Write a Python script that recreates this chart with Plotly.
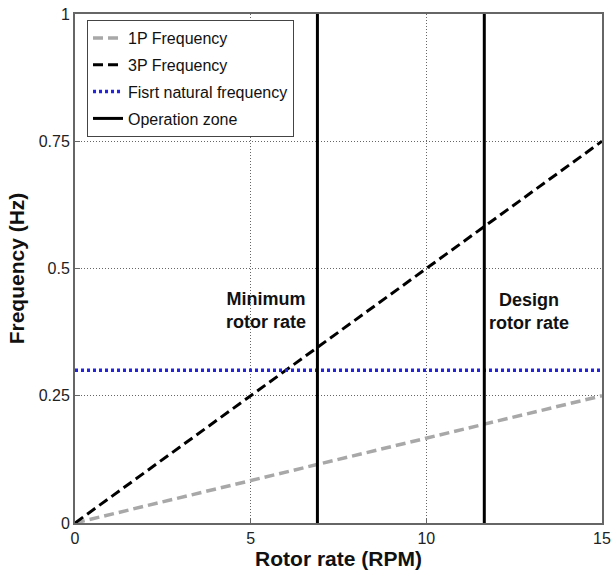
import plotly.graph_objects as go

# Rotor speed range (RPM) and excitation frequencies (Hz)
rotor_rpm = [0, 15]
freq_1p = [0, 0.25]
freq_3p = [0, 0.75]
natural_freq = [0.3, 0.3]
min_rotor_rate = 6.9
design_rotor_rate = 11.65

x_ticks = [0, 5, 10, 15]
y_ticks = [0, 0.25, 0.5, 0.75, 1]
y_tick_text = ["0", "0.25", "0.5", "0.75", "1"]

font_family = "Liberation Sans, Arial, sans-serif"

fig = go.Figure()

fig.add_trace(go.Scatter(
    x=rotor_rpm, y=freq_1p, mode="lines", name="1P Frequency", legendgroup="a",
    line=dict(color="#a8a8a8", width=3.5, dash="10px,5px"),
))
fig.add_trace(go.Scatter(
    x=rotor_rpm, y=freq_3p, mode="lines", name="3P Frequency", legendgroup="b",
    line=dict(color="black", width=3, dash="10px,5px"),
))
fig.add_trace(go.Scatter(
    x=rotor_rpm, y=natural_freq, mode="lines", name="Fisrt natural frequency", legendgroup="c",
    line=dict(color="#2424dc", width=3.5, dash="3px,3px"),
))
fig.add_trace(go.Scatter(
    x=[min_rotor_rate, min_rotor_rate, None, design_rotor_rate, design_rotor_rate],
    y=[0, 1, None, 0, 1], mode="lines", name="Operation zone", legendgroup="d",
    line=dict(color="black", width=3),
))

fig.add_annotation(x=5.44, y=0.418, text="Minimum<br>rotor rate", showarrow=False,
                   font=dict(family=font_family, size=18, color="#111", weight="bold"))
fig.add_annotation(x=12.92, y=0.415, text="Design<br>rotor rate", showarrow=False,
                   font=dict(family=font_family, size=18, color="#111", weight="bold"))

axis_common = dict(
    automargin=False,
    showline=True, linecolor="#666", linewidth=2, mirror=True,
    ticks="inside", ticklen=5, tickcolor="#666",
    showgrid=True, gridcolor="#666", griddash="1px,2px", gridwidth=1,
    zeroline=False, tickfont=dict(family=font_family, size=16, color="#222"),
)

fig.update_xaxes(
    range=[0, 15], tickvals=x_ticks, ticktext=[str(v) for v in x_ticks],
    title=dict(text="<b>Rotor rate (RPM)</b>",
               font=dict(family=font_family, size=21, color="#111"), standoff=4),
    **axis_common,
)
fig.update_yaxes(
    range=[0, 1], tickvals=y_ticks, ticktext=y_tick_text,
    title=dict(text="<b>Frequency (Hz)</b>",
               font=dict(family=font_family, size=21, color="#111"), standoff=8),
    **axis_common,
)

fig.update_layout(
    template="none",
    width=614, height=581,
    margin=dict(l=75, r=12, t=14, b=58),
    paper_bgcolor="white", plot_bgcolor="white",
    showlegend=True,
    legend=dict(
        x=0.0228, y=0.988, xanchor="left", yanchor="top",
        bgcolor="white", bordercolor="#444", borderwidth=1,
        font=dict(family=font_family, size=16, color="#111"),
        tracegroupgap=3, itemwidth=30, traceorder="grouped",
    ),
)

fig.write_html("out.html")
